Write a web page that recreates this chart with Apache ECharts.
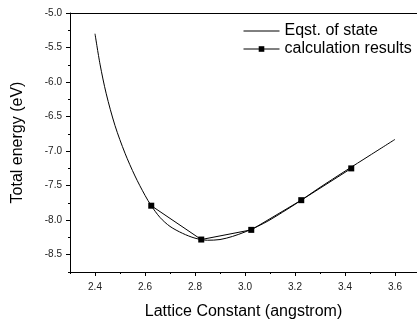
<!DOCTYPE html>
<html>
<head>
<meta charset="utf-8">
<script src="https://cdn.jsdelivr.net/npm/echarts@6/dist/echarts.min.js"></script>
<style>
  html, body {margin: 0; padding: 0; background: #fff;}
  #chart {width: 417px; height: 325px;}
</style>
</head>
<body>
<div id="chart"></div>
<script>
// equation of state curve
const eosX = [2.400, 2.420, 2.445, 2.480, 2.520, 2.560, 2.600, 2.625, 2.660, 2.700, 2.750, 2.800, 2.850, 2.900, 2.950, 3.000, 3.050, 3.100, 3.200, 3.300, 3.400, 3.500, 3.600];
const eosY = [-5.30, -5.74, -6.17, -6.63, -7.03, -7.36, -7.64, -7.79, -7.96, -8.09, -8.19, -8.26, -8.29, -8.28, -8.235, -8.17, -8.09, -7.995, -7.77, -7.525, -7.29, -7.06, -6.83];
// calculation results
const calcX = [2.625, 2.825, 3.025, 3.225, 3.425];
const calcY = [-7.79, -8.28, -8.14, -7.71, -7.25];
// tick labels
const xTicks = [2.4, 2.6, 2.8, 3.0, 3.2, 3.4, 3.6];
const xMinor = [2.3, 2.5, 2.7, 2.9, 3.1, 3.3, 3.5];
const yTicks = [-8.5, -8.0, -7.5, -7.0, -6.5, -6.0, -5.5, -5.0];
const yMinor = [-8.75, -8.25, -7.75, -7.25, -6.75, -6.25, -5.75, -5.25];

const font = 'Liberation Sans, Arial, sans-serif';
const ink = '#000';

const chart = echarts.init(document.getElementById('chart'));

const xBase = {type: 'value', min: 2.3, max: 3.688, splitLine: {show: false}};
const yBase = {type: 'value', min: -8.75, max: -5.0, splitLine: {show: false}};

chart.setOption({
    animation: false,
    textStyle: {fontFamily: font},
    grid: {left: 70, top: 13, right: 0, bottom: 45},
    legend: {
        orient: 'vertical',
        left: 243,
        top: 23,
        padding: 0,
        itemWidth: 36,
        itemHeight: 7,
        itemGap: 2,
        lineStyle: {width: 1},
        textStyle: {fontSize: 16, color: ink, fontFamily: font},
        data: [
            {name: 'Eqst. of state', itemStyle: {opacity: 0}},
            {name: 'calculation results'}
        ]
    },
    xAxis: [
        Object.assign({}, xBase, {
            position: 'bottom',
            name: 'Lattice Constant (angstrom)',
            nameLocation: 'middle',
            nameGap: 32,
            nameTextStyle: {fontSize: 16, color: ink},
            axisLine: {show: true, lineStyle: {color: ink, width: 1}},
            axisTick: {show: true, length: 4, customValues: xTicks, lineStyle: {color: ink}},
            axisLabel: {
                customValues: xTicks,
                fontSize: 10,
                color: '#222',
                margin: 10,
                formatter: v => v.toFixed(1)
            }
        }),
        Object.assign({}, xBase, {
            position: 'bottom',
            axisLine: {show: false},
            axisTick: {show: true, length: 2, customValues: xMinor, lineStyle: {color: ink}},
            axisLabel: {show: false}
        }),
        Object.assign({}, xBase, {
            position: 'top',
            axisLine: {show: true, lineStyle: {color: ink, width: 1}},
            axisTick: {show: false},
            axisLabel: {show: false}
        })
    ],
    yAxis: [
        Object.assign({}, yBase, {
            position: 'left',
            name: 'Total energy (eV)',
            nameLocation: 'middle',
            nameGap: 44,
            nameTextStyle: {fontSize: 16, color: ink},
            axisLine: {show: true, lineStyle: {color: ink, width: 1}},
            axisTick: {show: true, length: 4, customValues: yTicks, lineStyle: {color: ink}},
            axisLabel: {
                customValues: yTicks,
                fontSize: 10,
                color: '#222',
                margin: 8,
                formatter: v => v.toFixed(1)
            }
        }),
        Object.assign({}, yBase, {
            position: 'left',
            axisLine: {show: false},
            axisTick: {show: true, length: 2, customValues: yMinor, lineStyle: {color: ink}},
            axisLabel: {show: false}
        })
    ],
    series: [
        {
            name: 'Eqst. of state',
            type: 'line',
            smooth: 0.3,
            symbol: 'none',
            color: ink,
            lineStyle: {color: ink, width: 1},
            data: eosX.map((x, i) => [x, eosY[i]])
        },
        {
            name: 'calculation results',
            type: 'line',
            symbol: 'rect',
            symbolSize: 6,
            color: ink,
            itemStyle: {color: ink},
            lineStyle: {color: ink, width: 1},
            data: calcX.map((x, i) => [x, calcY[i]])
        }
    ]
});
</script>
</body>
</html>
